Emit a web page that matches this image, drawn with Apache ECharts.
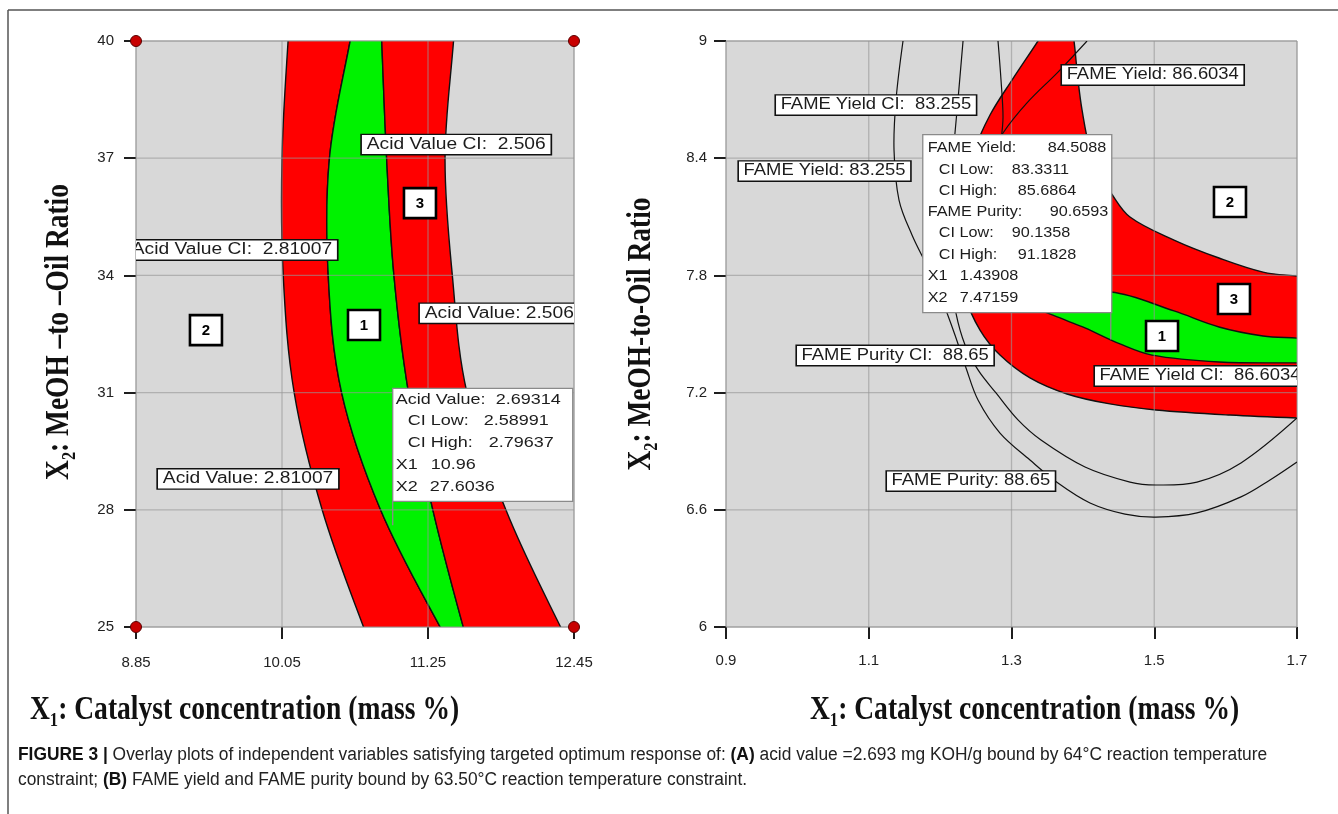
<!DOCTYPE html>
<html><head><meta charset="utf-8">
<script src="https://cdn.jsdelivr.net/npm/echarts@6/dist/echarts.min.js"></script>
<style>html,body{margin:0;padding:0;background:#fff;}#c{width:1338px;height:814px;}</style>
</head><body><div id="c"></div>
<script>
// ================= Panel A (acid value) =================
const aXTicks = [8.85, 10.05, 11.25, 12.45];
const aXTickLabels = ['8.85', '10.05', '11.25', '12.45'];
const aYTicks = [25, 28, 31, 34, 37, 40];
const aYTickLabels = ['25', '28', '31', '34', '37', '40'];
// boundary curves x = f(y), read at these y levels (first/last slightly beyond the frame)
const aBoundaryY = [41, 40, 37, 34, 31, 28, 25, 24];
const aEdge1 = [10.13, 10.10, 10.05, 10.06, 10.15, 10.38, 10.72, 10.86];
const aEdge2 = [10.68, 10.61, 10.44, 10.43, 10.54, 10.86, 11.35, 11.55];
const aEdge3 = [10.86, 10.87, 10.91, 10.97, 11.09, 11.29, 11.54, 11.64];
const aEdge4 = [11.49, 11.46, 11.39, 11.45, 11.57, 11.89, 12.34, 12.52];
const aDesignPoints = [[8.85, 40], [12.45, 40], [8.85, 25], [12.45, 25]];
const aLabels = [
  [10.707, 37.35, 'Acid Value CI:  2.506'],
  [8.776, 34.65, 'Acid Value CI:  2.81007'],
  [11.184, 33.03, 'Acid Value: 2.506'],
  [9.031, 28.79, 'Acid Value: 2.81007']
];
const aRegionNumbers = [[10.724, 32.73, '1'], [9.425, 32.60, '2'], [11.184, 35.85, '3']];
const aTipPoint = [10.96, 27.6036];
const aTipRows = [['Acid Value:', '2.69314'], ['CI Low:', '2.58991'], ['CI High:', '2.79637'], ['X1', '10.96'], ['X2', '27.6036']];

// ================= Panel B (FAME yield / purity) =================
const bXTicks = [0.9, 1.1, 1.3, 1.5, 1.7];
const bXTickLabels = ['0.9', '1.1', '1.3', '1.5', '1.7'];
const bYTicks = [6, 6.6, 7.2, 7.8, 8.4, 9];
const bYTickLabels = ['6', '6.6', '7.2', '7.8', '8.4', '9'];
const bRedOuterX = [1.3455, 1.3371, 1.3007, 1.2699, 1.2489, 1.2363, 1.2320, 1.2377, 1.2559, 1.2839, 1.3259, 1.3778, 1.4379, 1.5024, 1.6061, 1.7000, 1.7182];
const bRedOuterY = [9.051, 9.0, 8.800, 8.621, 8.442, 8.186, 7.930, 7.674, 7.520, 7.392, 7.275, 7.193, 7.142, 7.111, 7.085, 7.070, 7.070];
const bRedInnerX = [1.3848, 1.3876, 1.3932, 1.3988, 1.4100, 1.4240, 1.4394, 1.4660, 1.5277, 1.5907, 1.6524, 1.7000, 1.7182];
const bRedInnerY = [9.051, 9.0, 8.800, 8.647, 8.442, 8.314, 8.222, 8.099, 7.981, 7.889, 7.817, 7.797, 7.792];
const bGreenUpperX = [1.3399, 1.3820, 1.4394, 1.5277, 1.5907, 1.6524, 1.7000, 1.7182];
const bGreenUpperY = [7.633, 7.674, 7.715, 7.618, 7.536, 7.490, 7.479, 7.474];
const bGreenLowerX = [1.3399, 1.3680, 1.4030, 1.4520, 1.4969, 1.5907, 1.7000, 1.7182];
const bGreenLowerY = [7.633, 7.582, 7.531, 7.449, 7.392, 7.357, 7.352, 7.352];
const bContourAX = [1.1480, 1.1382, 1.1354, 1.1424, 1.1606, 1.1830, 1.2026, 1.2208, 1.2363, 1.2531, 1.2839, 1.3259, 1.3651, 1.4100, 1.4590, 1.5024, 1.5599, 1.6215, 1.6622, 1.7000];
const bContourAY = [9.0, 8.698, 8.442, 8.186, 8.007, 7.838, 7.674, 7.495, 7.326, 7.162, 6.993, 6.855, 6.737, 6.635, 6.578, 6.563, 6.584, 6.666, 6.753, 6.845];
const bContourBX = [1.2321, 1.2250, 1.2180, 1.2138, 1.2166, 1.2222, 1.2349, 1.2531, 1.2783, 1.3091, 1.3413, 1.4030, 1.4660, 1.5024, 1.5599, 1.6215, 1.7000];
const bContourBY = [9.0, 8.698, 8.401, 8.084, 7.776, 7.607, 7.444, 7.316, 7.198, 7.060, 6.957, 6.819, 6.742, 6.727, 6.742, 6.840, 7.070];
const bContourCX = [1.2811, 1.2853, 1.2881, 1.2853, 1.2783];
const bContourCY = [9.0, 8.800, 8.611, 8.493, 8.340];
const bContourDX = [1.4058, 1.3651, 1.3217, 1.2881, 1.2629];
const bContourDY = [9.0, 8.841, 8.683, 8.529, 8.365];
const bLabels = [
  [1.3708, 8.826, 'FAME Yield: 86.6034'],
  [0.9701, 8.672, 'FAME Yield CI:  83.255'],
  [0.9182, 8.334, 'FAME Yield: 83.255'],
  [0.9995, 7.390, 'FAME Purity CI:  88.65'],
  [1.4170, 7.285, 'FAME Yield CI:  86.6034'],
  [1.1256, 6.747, 'FAME Purity: 88.65']
];
const bRegionNumbers = [[1.5109, 7.490, '1'], [1.6061, 8.176, '2'], [1.6117, 7.679, '3']];
const bTipPoint = [1.43908, 7.47159];
const bTipRows = [['FAME Yield:', '84.5088'], ['CI Low:', '83.3311'], ['CI High:', '85.6864'], ['FAME Purity:', '90.6593'], ['CI Low:', '90.1358'], ['CI High:', '91.1828'], ['X1', '1.43908'], ['X2', '7.47159']];

// ================= helpers =================
const FONT = '"Liberation Sans", Arial, Helvetica, sans-serif';
const SERIF = '"Liberation Serif", "Times New Roman", serif';
const RED = '#ff0000', GREEN = '#00f200';
const zip = (xs, ys) => xs.map((x, i) => [x, ys[i]]);

function polySeries(ax, polys) {
  return {
    type: 'custom', xAxisIndex: ax, yAxisIndex: ax, clip: true, z: 2, silent: true,
    data: polys.map(p => [p.pts[1][0], p.pts[1][1]]),
    renderItem(params, api) {
      const p = polys[params.dataIndex];
      return { type: 'polygon', shape: { points: p.pts.map(q => api.coord(q)), smooth: 0.35 },
        style: { fill: p.color, stroke: '#111', lineWidth: 1.4 } };
    }
  };
}
function lineSeries(ax, lines) {
  return {
    type: 'custom', xAxisIndex: ax, yAxisIndex: ax, clip: true, z: 4, silent: true,
    data: lines.map(l => [l[0][0], l[0][1]]),
    renderItem(params, api) {
      const l = lines[params.dataIndex];
      return { type: 'polyline', shape: { points: l.map(q => api.coord(q)), smooth: 0.35 },
        style: { fill: 'none', stroke: '#111', lineWidth: 1.2 } };
    }
  };
}
function gridSeries(ax, xt, yt) {
  const items = xt.map(v => [v, yt[0], 0]).concat(yt.map(v => [xt[0], v, 1]));
  return {
    type: 'custom', xAxisIndex: ax, yAxisIndex: ax, clip: false, z: 3, silent: true,
    data: items,
    renderItem(params, api) {
      const k = api.value(2), v = k === 0 ? api.value(0) : api.value(1);
      const p1 = k === 0 ? api.coord([v, yt[0]]) : api.coord([xt[0], v]);
      const p2 = k === 0 ? api.coord([v, yt[yt.length - 1]]) : api.coord([xt[xt.length - 1], v]);
      return { type: 'line', shape: { x1: p1[0], y1: p1[1], x2: p2[0], y2: p2[1] },
        style: { stroke: 'rgba(150,150,150,0.6)', lineWidth: 1.3 } };
    }
  };
}
function labelSeries(ax, labels, sx) {
  return {
    type: 'custom', xAxisIndex: ax, yAxisIndex: ax, clip: true, z: 5, silent: true,
    data: labels.map(l => [l[0], l[1]]),
    renderItem(params, api) {
      const l = labels[params.dataIndex], c = api.coord([l[0], l[1]]);
      return { type: 'text', x: c[0], y: c[1], scaleX: sx,
        style: { text: l[2], fontFamily: FONT, fontSize: 16, fill: '#1c1c1c', backgroundColor: '#fff',
          borderColor: '#111', borderWidth: 1.4, padding: [2, 4, 1, 4], align: 'left', verticalAlign: 'middle' } };
    }
  };
}
function numberSeries(ax, nums) {
  return {
    type: 'custom', xAxisIndex: ax, yAxisIndex: ax, clip: false, z: 5, silent: true,
    data: nums.map(n => [n[0], n[1]]),
    renderItem(params, api) {
      const n = nums[params.dataIndex], c = api.coord([n[0], n[1]]);
      return { type: 'group', children: [
        { type: 'rect', shape: { x: c[0] - 16, y: c[1] - 15, width: 32, height: 30 },
          style: { fill: '#fff', stroke: '#000', lineWidth: 2.6 } },
        { type: 'text', x: c[0], y: c[1] + 1, style: { text: n[2], fontFamily: FONT, fontWeight: 'bold', fontSize: 15,
          fill: '#000', align: 'center', verticalAlign: 'middle' } }
      ] };
    }
  };
}
function tipSeries(ax, point, rows, lay) {
  return {
    type: 'custom', xAxisIndex: ax, yAxisIndex: ax, clip: false, z: 6, silent: true,
    data: [point],
    renderItem(params, api) {
      const c = api.coord(point);
      const bx = c[0] + lay.dx, by = c[1] + lay.dy;
      const ch = [
        { type: 'line', shape: { x1: c[0], y1: by + lay.h, x2: c[0], y2: c[1] }, style: { stroke: '#8a8a8a', lineWidth: 1.3 } },
        { type: 'rect', shape: { x: bx, y: by, width: lay.w, height: lay.h }, style: { fill: '#fff', stroke: '#8a8a8a', lineWidth: 1.3 } }
      ];
      rows.forEach((r, i) => {
        const ly = by + lay.rowY[i];
        ch.push({ type: 'text', x: bx + lay.labX[i], y: ly, scaleX: lay.sx,
          style: { text: r[0], fontFamily: FONT, fontSize: 15, fill: '#1c1c1c', align: 'left', verticalAlign: 'middle' } });
        ch.push({ type: 'text', x: bx + lay.valX[i], y: ly, scaleX: lay.sx,
          style: { text: r[1], fontFamily: FONT, fontSize: 15, fill: '#1c1c1c', align: 'left', verticalAlign: 'middle' } });
      });
      return { type: 'group', children: ch };
    }
  };
}
function axisPair(ax, xt, xl, yt, yl, xm, ym) {
  const fmt = (ticks, labels) => v => { const i = ticks.findIndex(t => Math.abs(t - v) < 1e-6); return i >= 0 ? labels[i] : ''; };
  const common = {
    axisLine: { show: false },
    splitLine: { show: false },
    axisTick: { show: true, length: 12, lineStyle: { color: '#1e1e1e', width: 2 } },
  };
  return {
    x: Object.assign({ type: 'value', gridIndex: ax, min: xt[0], max: xt[xt.length - 1] }, common,
      { axisTick: Object.assign({}, common.axisTick, { customValues: xt }),
        axisLabel: { customValues: xt, formatter: fmt(xt, xl), margin: xm, fontFamily: FONT, fontSize: 15, color: '#222' } }),
    y: Object.assign({ type: 'value', gridIndex: ax, min: yt[0], max: yt[yt.length - 1] }, common,
      { axisTick: Object.assign({}, common.axisTick, { customValues: yt }),
        axisLabel: { customValues: yt, formatter: fmt(yt, yl), margin: ym, fontFamily: FONT, fontSize: 15, color: '#222' } })
  };
}

// ================= build =================
const aPolys = [
  { color: RED, pts: zip(aEdge1, aBoundaryY).concat(zip(aEdge2, aBoundaryY).reverse()) },
  { color: GREEN, pts: zip(aEdge2, aBoundaryY).concat(zip(aEdge3, aBoundaryY).reverse()) },
  { color: RED, pts: zip(aEdge3, aBoundaryY).concat(zip(aEdge4, aBoundaryY).reverse()) }
];
const bPolys = [
  { color: RED, pts: zip(bRedOuterX, bRedOuterY).concat(zip(bRedInnerX, bRedInnerY).reverse()) },
  { color: GREEN, pts: zip(bGreenUpperX, bGreenUpperY).concat(zip(bGreenLowerX, bGreenLowerY).slice(1).reverse()) }
];
const bLines = [zip(bContourAX, bContourAY), zip(bContourBX, bContourBY), zip(bContourCX, bContourCY), zip(bContourDX, bContourDY)];

const axA = axisPair(0, aXTicks, aXTickLabels, aYTicks, aYTickLabels, 28, 22);
const axB = axisPair(1, bXTicks, bXTickLabels, bYTicks, bYTickLabels, 26, 19);

const chart = echarts.init(document.getElementById('c'), null, { renderer: 'canvas' });
chart.setOption({
  animation: false,
  backgroundColor: '#ffffff',
  grid: [
    { left: 136, top: 41, width: 438, height: 586, show: true, backgroundColor: '#d8d8d8', borderColor: '#a9a9a9', borderWidth: 1, containLabel: false },
    { left: 726, top: 41, width: 571, height: 586, show: true, backgroundColor: '#d8d8d8', borderColor: '#a9a9a9', borderWidth: 1, containLabel: false }
  ],
  xAxis: [axA.x, axB.x],
  yAxis: [axA.y, axB.y],
  series: [
    polySeries(0, aPolys),
    gridSeries(0, aXTicks, aYTicks),
    labelSeries(0, aLabels, 1.2),
    numberSeries(0, aRegionNumbers),
    tipSeries(0, aTipPoint, aTipRows, { dx: 0, dy: -137, w: 180, h: 113, sx: 1.2,
      rowY: [12, 33, 55, 77, 99], labX: [3, 15, 15, 3, 3], valX: [103, 91, 96, 38, 37] }),
    { type: 'scatter', xAxisIndex: 0, yAxisIndex: 0, data: aDesignPoints, symbolSize: 11, clip: false, z: 7, silent: true,
      itemStyle: { color: '#c80000', borderColor: '#5a0000', borderWidth: 1, opacity: 1 } },

    polySeries(1, bPolys),
    gridSeries(1, bXTicks, bYTicks),
    lineSeries(1, bLines),
    labelSeries(1, bLabels, 1.15),
    numberSeries(1, bRegionNumbers),
    tipSeries(1, bTipPoint, bTipRows, { dx: -188, dy: -205, w: 189, h: 178, sx: 1.08,
      rowY: [13, 35, 56, 77, 98, 120, 141, 163], labX: [5, 16, 16, 5, 16, 16, 5, 5], valX: [125, 89, 95, 127, 89, 95, 37, 37] })
  ],
  graphic: [
    { type: 'line', shape: { x1: 8, y1: 10, x2: 1338, y2: 10 }, style: { stroke: '#555', lineWidth: 1.5 }, silent: true },
    { type: 'line', shape: { x1: 8, y1: 10, x2: 8, y2: 814 }, style: { stroke: '#555', lineWidth: 1.5 }, silent: true },
    { type: 'text', x: 59, y: 332, rotation: Math.PI / 2, scaleX: 0.83, silent: true,
      style: { text: 'X\u2082: MeOH \u2013to \u2013Oil Ratio', fontFamily: SERIF, fontWeight: 'bold', fontSize: 33, fill: '#111', align: 'center', verticalAlign: 'middle' } },
    { type: 'text', x: 641, y: 334, rotation: Math.PI / 2, scaleX: 0.83, silent: true,
      style: { text: 'X\u2082: MeOH-to-Oil Ratio', fontFamily: SERIF, fontWeight: 'bold', fontSize: 33, fill: '#111', align: 'center', verticalAlign: 'middle' } },
    { type: 'text', x: 30, y: 710, scaleX: 0.835, silent: true,
      style: { text: 'X\u2081: Catalyst concentration (mass %)', fontFamily: SERIF, fontWeight: 'bold', fontSize: 33, fill: '#111', align: 'left', verticalAlign: 'middle' } },
    { type: 'text', x: 810, y: 710, scaleX: 0.835, silent: true,
      style: { text: 'X\u2081: Catalyst concentration (mass %)', fontFamily: SERIF, fontWeight: 'bold', fontSize: 33, fill: '#111', align: 'left', verticalAlign: 'middle' } },
    { type: 'text', x: 18, y: 755, scaleX: 0.965, silent: true,
      style: { text: '{b|FIGURE 3 |} Overlay plots of independent variables satisfying targeted optimum response of: {b|(A)} acid value =2.693 mg KOH/g bound by 64\u00b0C reaction temperature',
        fontFamily: FONT, fontSize: 18, fill: '#222', align: 'left', verticalAlign: 'middle',
        rich: { b: { fontFamily: FONT, fontSize: 18, fontWeight: 'bold', fill: '#111' } } } },
    { type: 'text', x: 18, y: 780, scaleX: 0.965, silent: true,
      style: { text: 'constraint; {b|(B)} FAME yield and FAME purity bound by 63.50\u00b0C reaction temperature constraint.',
        fontFamily: FONT, fontSize: 18, fill: '#222', align: 'left', verticalAlign: 'middle',
        rich: { b: { fontFamily: FONT, fontSize: 18, fontWeight: 'bold', fill: '#111' } } } }
  ]
});
</script></body></html>
